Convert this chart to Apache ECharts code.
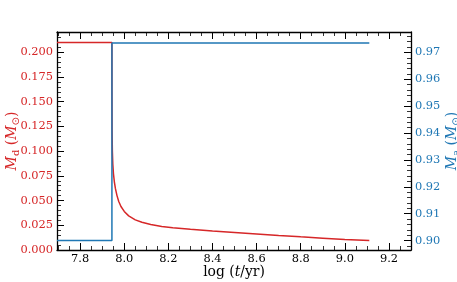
<!DOCTYPE html>
<html><head><meta charset="utf-8">
<script src="https://cdn.jsdelivr.net/npm/echarts@6/dist/echarts.min.js"></script>
<style>html,body{margin:0;padding:0;background:#fff}#c{width:457px;height:282px}</style>
</head><body><div id="c"></div>
<script>
// Disk mass M_d (left axis)
const redX = [7.695, 7.944, 7.9442, 7.9448, 7.946, 7.948, 7.951, 7.955, 7.96, 7.967, 7.975, 7.985, 8.0, 8.02, 8.05, 8.08, 8.12, 8.17, 8.22, 8.3, 8.4, 8.5, 8.6, 8.7, 8.8, 8.9, 9.0, 9.111];
const redY = [0.21, 0.21, 0.16, 0.12, 0.10, 0.087, 0.077, 0.069, 0.062, 0.055, 0.049, 0.044, 0.039, 0.0345, 0.0305, 0.028, 0.0258, 0.0238, 0.0225, 0.021, 0.0193, 0.0177, 0.0162, 0.0147, 0.0133, 0.012, 0.0107, 0.0095];
// Accretor mass M_a (right axis)
const blueX = [7.695, 7.944, 7.944, 9.111];
const blueY = [0.900, 0.900, 0.9735, 0.9735];

const RED = '#d62728', BLUE = '#1f77b4';
const FF = 'DejaVu Serif';
const pair = (xs, ys) => xs.map((x, i) => [x, ys[i]]);

const tickCommon = {
  axisLine: { show: true, lineStyle: { color: '#000', width: 1.3 } },
  axisTick: { show: true, inside: true, length: 7, lineStyle: { color: '#000', width: 1 } },
  minorTick: { show: true, length: 4, lineStyle: { color: '#000', width: 0.8 } },
  splitLine: { show: false },
  minorSplitLine: { show: false },
  nameMoveOverlap: false
};

function sub(main, s) {
  return '{i|' + main + '}{s|' + s + '}';
}
const richY = (color) => ({
  i: { fontFamily: FF, fontStyle: 'italic', fontSize: 14, lineHeight: 18, color: color, verticalAlign: 'middle' },
  n: { fontFamily: FF, fontSize: 14, lineHeight: 18, color: color, verticalAlign: 'middle' },
  s: { fontFamily: FF, fontSize: 10, lineHeight: 10, padding: [9, 0, 0, 0], color: color, verticalAlign: 'bottom' },
  o: { fontFamily: 'DejaVu Sans', fontSize: 10, lineHeight: 10, padding: [9, 0, 0, 0], color: color, verticalAlign: 'bottom' }
});

const chart = echarts.init(document.getElementById('c'), null, { renderer: 'canvas' });
chart.setOption({
  animation: false,
  backgroundColor: '#fff',
  grid: { left: 57, right: 46, top: 32, bottom: 32, containLabel: false, outerBoundsMode: 'none' },
  xAxis: [
    Object.assign({}, tickCommon, {
      type: 'value', position: 'bottom', min: 7.695, max: 9.3, splitNumber: 8,
      minorTick: Object.assign({}, tickCommon.minorTick, { splitNumber: 4 }),
      axisLabel: { fontFamily: FF, fontSize: 11.4, color: '#000', margin: 4,
        showMinLabel: false, showMaxLabel: false, formatter: v => v.toFixed(1) },
      name: '{n|log (}{i|t}{n|/yr)}', nameLocation: 'middle', nameGap: 15,
      nameTextStyle: { rich: {
        n: { fontFamily: FF, fontSize: 13.9, color: '#000' },
        i: { fontFamily: FF, fontSize: 13.9, fontStyle: 'italic', color: '#000' } } }
    }),
    Object.assign({}, tickCommon, {
      type: 'value', position: 'top', min: 7.695, max: 9.3, splitNumber: 8,
      minorTick: Object.assign({}, tickCommon.minorTick, { splitNumber: 4 }),
      axisLabel: { show: false }
    })
  ],
  yAxis: [
    Object.assign({}, tickCommon, {
      type: 'value', position: 'left', min: 0, max: 0.2205, interval: 0.025,
      minorTick: Object.assign({}, tickCommon.minorTick, { splitNumber: 5 }),
      axisLabel: { fontFamily: FF, fontSize: 11.4, color: RED, margin: 4,
        showMaxLabel: false, formatter: v => v.toFixed(3) },
      name: sub('M', 'd') + '{n| (}{i|M}{o|⊙}{n|)}', nameLocation: 'middle', nameRotate: 90, nameGap: 36,
      nameTextStyle: { rich: richY(RED) }
    }),
    Object.assign({}, tickCommon, {
      type: 'value', position: 'right', min: 0.8965, max: 0.9776, splitNumber: 8,
      minorTick: Object.assign({}, tickCommon.minorTick, { splitNumber: 5 }),
      axisLabel: { fontFamily: FF, fontSize: 11.4, color: BLUE, margin: 4,
        showMinLabel: false, showMaxLabel: false, formatter: v => v.toFixed(2) },
      name: sub('M', 'a') + '{n| (}{i|M}{o|⊙}{n|)}', nameLocation: 'middle', nameRotate: 90, nameGap: 32,
      nameTextStyle: { rich: richY(BLUE) }
    })
  ],
  series: [
    { type: 'line', xAxisIndex: 0, yAxisIndex: 0, data: pair(redX, redY), showSymbol: false,
      lineStyle: { color: RED, width: 1.5 }, itemStyle: { color: RED }, silent: true, z: 3 },
    { type: 'line', xAxisIndex: 0, yAxisIndex: 1, data: pair(blueX, blueY), showSymbol: false,
      lineStyle: { color: BLUE, width: 1.5 }, itemStyle: { color: BLUE }, silent: true, z: 4 }
  ]
});
</script>
</body></html>
